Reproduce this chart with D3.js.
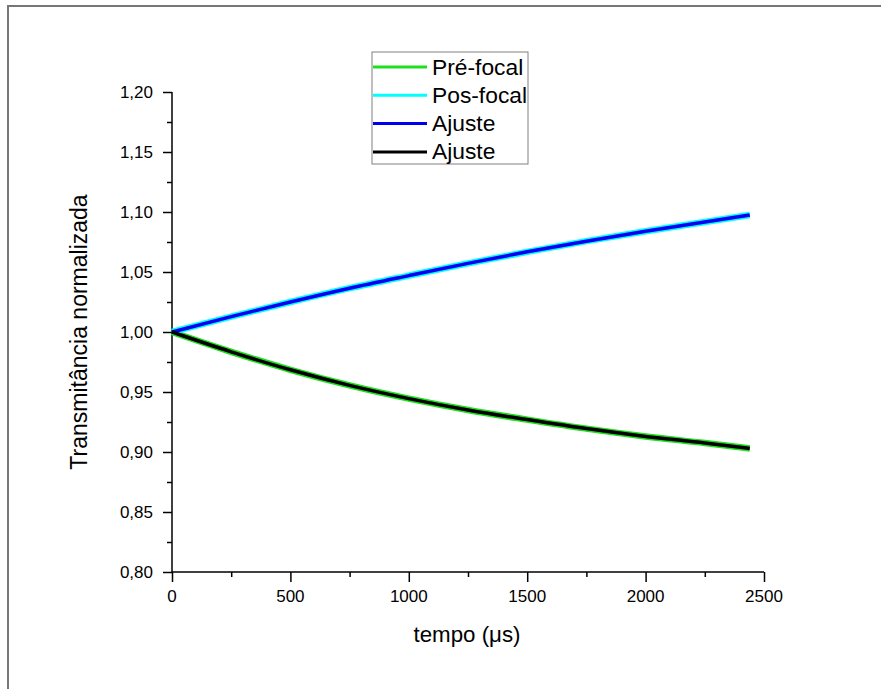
<!DOCTYPE html>
<html><head><meta charset="utf-8">
<script src="https://cdn.jsdelivr.net/npm/d3@7"></script>
<style>body{margin:0;background:#fff}svg{display:block}text{font-family:"Liberation Sans",Arial,sans-serif;fill:#000}</style>
</head><body><svg id="c" width="881" height="689"></svg>
<script>
const times = [0, 250, 500, 750, 1000, 1250, 1500, 1750, 2000, 2250, 2440];
const posFocal = [1.000, 1.0128, 1.0250, 1.0365, 1.0470, 1.0572, 1.0668, 1.0757, 1.0840, 1.0917, 1.0975];
const preFocal = [1.000, 0.9835, 0.9685, 0.9555, 0.9445, 0.9350, 0.9270, 0.9195, 0.9130, 0.9075, 0.9030];
const xTicks = [0, 500, 1000, 1500, 2000, 2500];
const yTicks = [0.80, 0.85, 0.90, 0.95, 1.00, 1.05, 1.10, 1.15, 1.20];
const legendLabels = ["Pré-focal", "Pos-focal", "Ajuste", "Ajuste"];
const colors = ["#1ee01e", "#00ffff", "#0000f0", "#000000"];

const svg = d3.select("#c");
// outer frame
svg.append("path").attr("d","M8,689V6H881").attr("fill","none").attr("stroke","#777").attr("stroke-width",2);

const x = d3.scaleLinear().domain([0,2500]).range([172,764]);
const y = d3.scaleLinear().domain([0.8,1.2]).range([572,92]);

const fmt = d => d3.format(".2f")(d).replace(".", ",");

// x axis
const gx = svg.append("g").attr("transform","translate(0,572)");
gx.call(d3.axisBottom(x).tickValues(d3.range(0,2501,250)).tickSize(5).tickFormat(""));
gx.call(g=>g.selectAll(".tick").filter(d=>d%500===0).select("line").attr("y2",10));
gx.selectAll("path,line").attr("stroke","#000").attr("stroke-width",1.5);
gx.select(".domain").attr("d","M172,0H764");
xTicks.forEach(t=>svg.append("text").attr("x",x(t)).attr("y",602).attr("text-anchor","middle").attr("font-size",17).text(t));

// y axis
const gy = svg.append("g").attr("transform","translate(172,0)");
gy.call(d3.axisLeft(y).tickValues(d3.range(0,17).map(i=>0.8+i*0.025)).tickSize(5).tickFormat(""));
gy.selectAll(".tick").filter((d,i)=>i%2===0).select("line").attr("x2",-9);
gy.selectAll("path,line").attr("stroke","#000").attr("stroke-width",1.5);
gy.select(".domain").attr("d","M0,92V572");
yTicks.forEach(t=>svg.append("text").attr("x",153).attr("y",y(t)+5.5).attr("text-anchor","end").attr("font-size",17).text(fmt(t)));

// axis titles
svg.append("text").attr("x",467).attr("y",642).attr("text-anchor","middle").attr("font-size",22.3).text("tempo (μs)");
svg.append("text").attr("transform","translate(87,332) rotate(-90)").attr("text-anchor","middle").attr("font-size",23).text("Transmitância normalizada");

// curves
const line = d3.line().x((d,i)=>x(times[i])).y(d=>y(d)).curve(d3.curveMonotoneX);
svg.append("path").attr("d",line(preFocal)).attr("fill","none").attr("stroke",colors[0]).attr("stroke-width",6.5);
svg.append("path").attr("d",line(posFocal)).attr("fill","none").attr("stroke",colors[1]).attr("stroke-width",6.5);
svg.append("path").attr("d",line(posFocal)).attr("fill","none").attr("stroke",colors[2]).attr("stroke-width",3.5);
svg.append("path").attr("d",line(preFocal)).attr("fill","none").attr("stroke",colors[3]).attr("stroke-width",3.5);

// legend
const lg = svg.append("g");
lg.append("rect").attr("x",372).attr("y",52).attr("width",156).attr("height",112).attr("fill","#fff").attr("stroke","#808080").attr("stroke-width",1);
legendLabels.forEach((l,i)=>{
  const yy = 67 + i*28.3;
  lg.append("line").attr("x1",373).attr("x2",427).attr("y1",yy).attr("y2",yy).attr("stroke",colors[i]).attr("stroke-width",3);
  lg.append("text").attr("x",432).attr("y",yy+7.5).attr("font-size",22.8).text(l);
});
</script></body></html>
